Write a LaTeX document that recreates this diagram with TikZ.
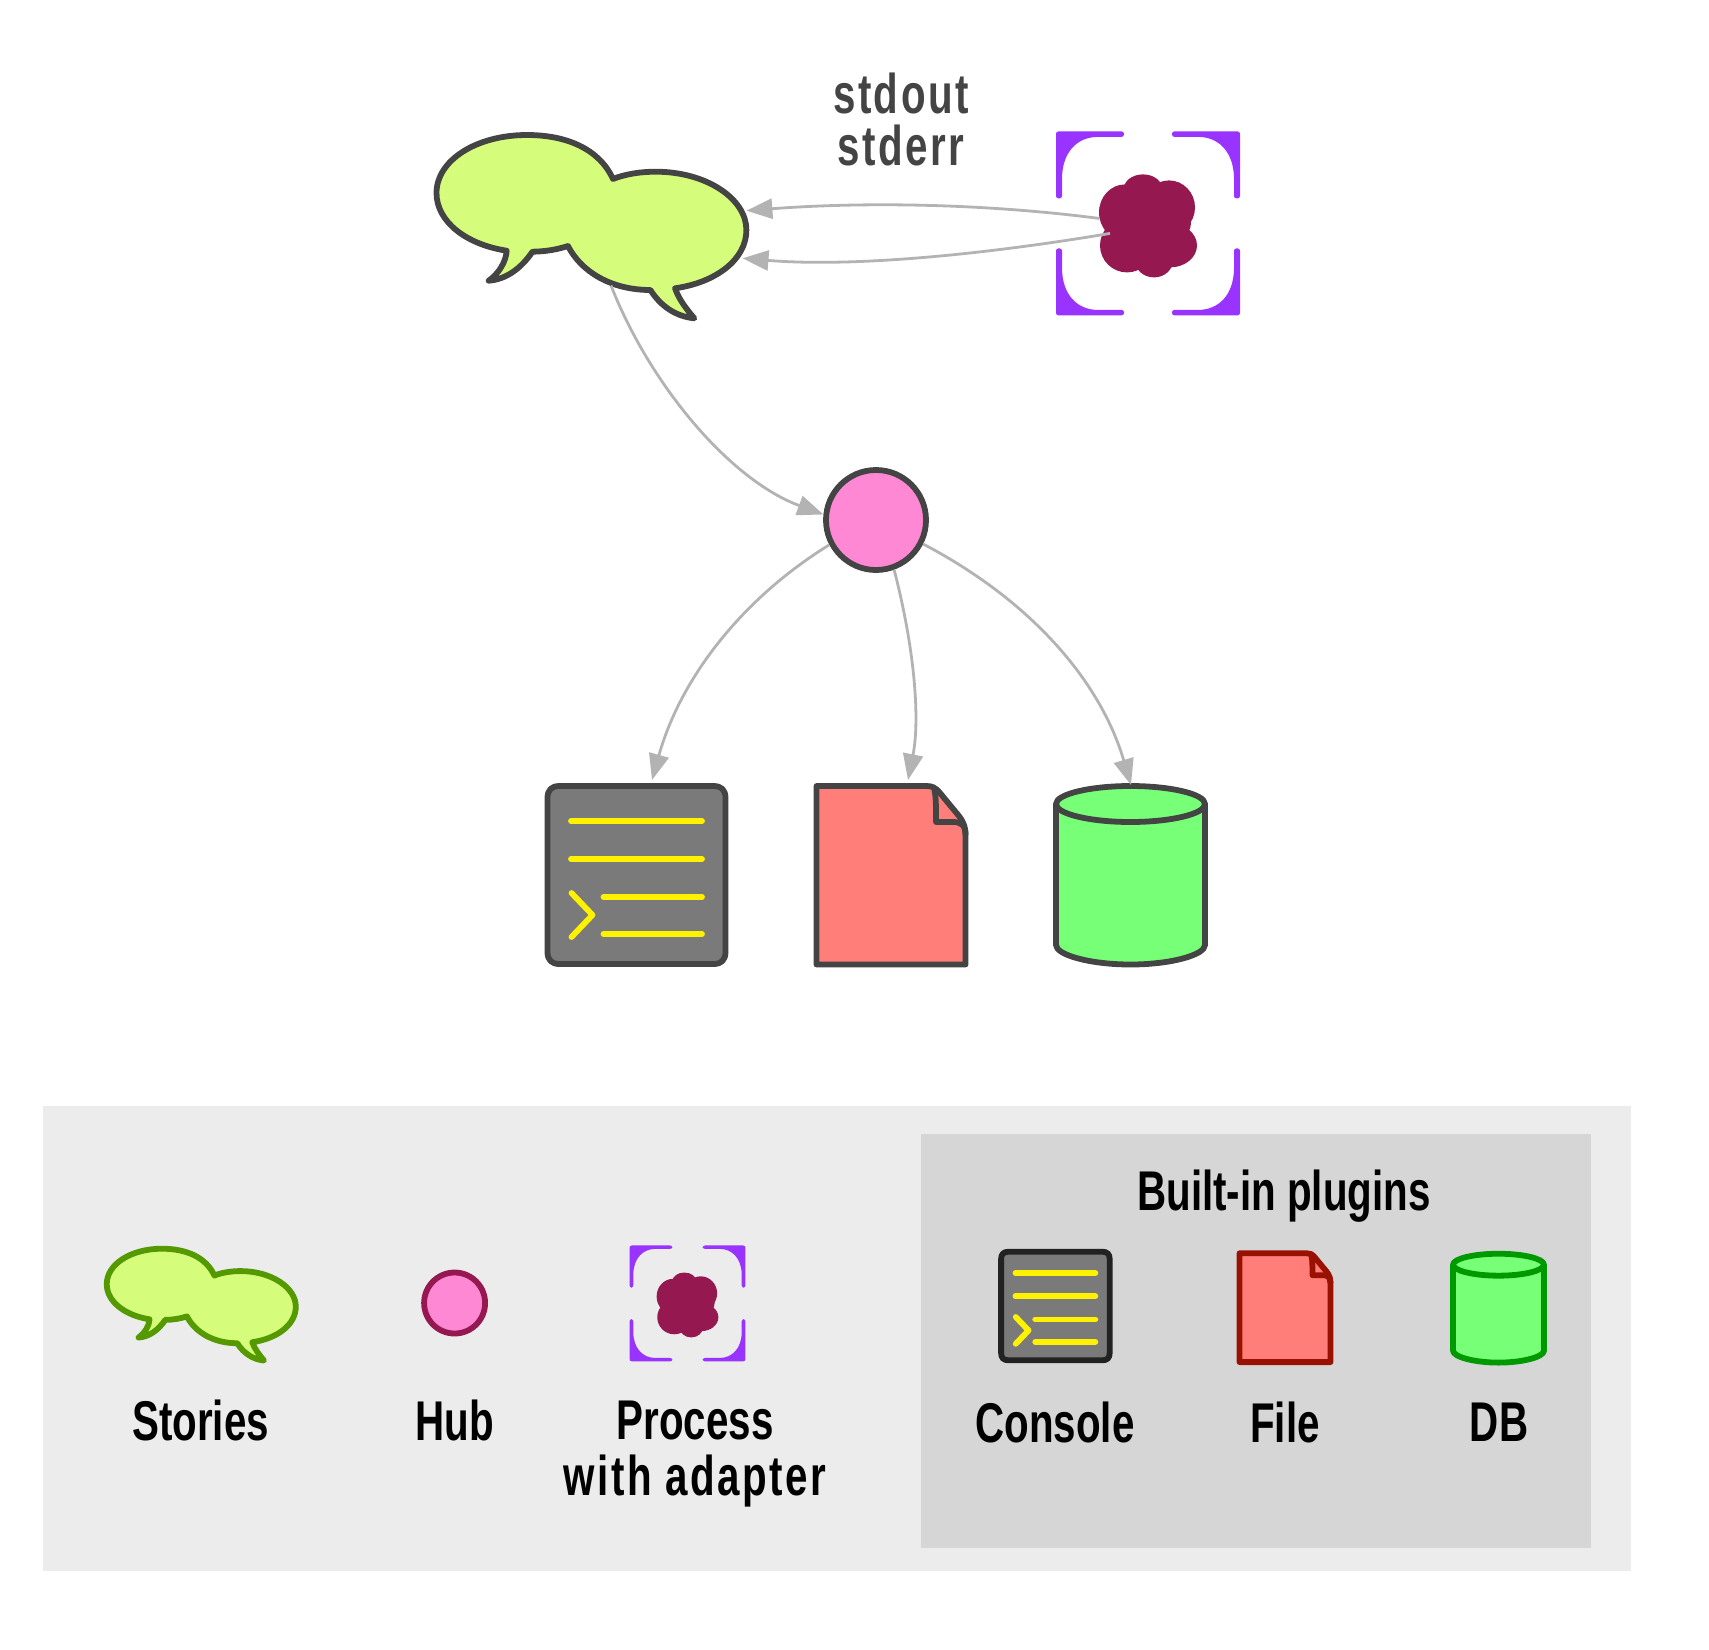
\documentclass[tikz,border=0pt]{standalone}
\usepackage{fontspec}
\setmainfont[FakeStretch=0.72]{Liberation Sans}
\usetikzlibrary{arrows.meta}
\definecolor{ink}{HTML}{444444}
\definecolor{edgegray}{HTML}{B3B3B3}
\definecolor{storyfill}{HTML}{D5FD7B}
\definecolor{storyline}{HTML}{559900}
\definecolor{hubfill}{HTML}{FF88D5}
\definecolor{burgundy}{HTML}{951950}
\definecolor{purple}{HTML}{9933FF}
\definecolor{consolefill}{HTML}{7A7A7A}
\definecolor{consoleline}{HTML}{222222}
\definecolor{filefill}{HTML}{FF7E79}
\definecolor{fileline}{HTML}{991100}
\definecolor{dbfill}{HTML}{77FF77}
\definecolor{dbline}{HTML}{009900}
\definecolor{panelouter}{HTML}{ECECEC}
\definecolor{panelinner}{HTML}{D6D6D6}
\newcommand{\wide}[1]{{\addfontfeature{LetterSpace=4.5}#1}}
\tikzset{
  iconline/.style={line width=2.9pt, line join=round},
  hub/.style={circle, draw=#1, fill=hubfill, line width=2.9pt, inner sep=0pt},
  arrow/.style={-{Triangle[length=13pt,width=10pt]}, draw=edgegray, color=edgegray, line width=1.4pt},
  label/.style={font=\bfseries\fontsize{28}{26}\selectfont, align=center, text=black, inner sep=0pt},
  panel/.style={inner sep=0pt, draw=none},
  prompt/.style={draw=yellow, line width=2.9pt, line cap=round, line join=round},
  pics/storiesicon/.style={code={
    \draw[iconline, draw=#1, fill=storyfill] (22,-47.5) .. controls (8,-78) and (-25,-91.5) .. (-64,-91.5)
      .. controls (-115,-91.5) and (-154.5,-66) .. (-154.5,-33.5)
      .. controls (-154.5,-5) and (-125,18) .. (-84.3,24.2)
      .. controls (-85,35) and (-92,47) .. (-102.4,54.2)
      .. controls (-85,53) and (-70,42) .. (-58.5,25.2)
      .. controls (-45,25) and (-34,23) .. (-23,19.5)
      .. controls (-10,45) and (20,63.5) .. (59.4,63.5)
      .. controls (70,80) and (85,90) .. (103.3,91.8)
      .. controls (95,82) and (88,73) .. (84,61.8)
      .. controls (125,56) and (155.4,33) .. (155.4,3.5)
      .. controls (155.4,-28) and (115,-54.8) .. (65,-54.8)
      .. controls (48,-54.8) and (33,-52) .. (22,-47.5) -- cycle;
    \coordinate (-inup) at (155.4,-15.8);
    \coordinate (-indown) at (151.5,31.8);
    \coordinate (-out) at (20,59);
  }},
  pics/processicon/.style={code={
    \foreach \sx/\sy in {1/1,-1/1,1/-1,-1/-1}
      \fill[purple, rounded corners=1.2pt, xscale=\sx, yscale=\sy] (-92,-92) -- (-24,-92) -- (-24,-86.5) -- (-48,-86.5)
        .. controls (-70,-86.5) and (-86,-72) .. (-86,-42) -- (-86,-25) -- (-92,-25) -- cycle;
    \fill[burgundy] (0,0) ellipse [x radius=43, y radius=25];
    \fill[burgundy] (-5,-35) ellipse [x radius=19, y radius=14];
    \fill[burgundy] (-23,-11) ellipse [x radius=26, y radius=28];
    \fill[burgundy] (21,-16) ellipse [x radius=26, y radius=27];
    \fill[burgundy] (22,22) ellipse [x radius=27, y radius=22];
    \fill[burgundy] (-21,22) ellipse [x radius=27, y radius=27];
    \fill[burgundy] (6,37) ellipse [x radius=19, y radius=17];
    \coordinate (-outup) at (-49,-5);
    \coordinate (-outdown) at (-38,10);
  }},
  pics/consoleicon/.style={code={
    \draw[iconline, draw=#1, fill=consolefill] (-77,-89) -- (77,-89) .. controls (85,-89) and (89,-85) .. (89,-77)
      -- (89,77) .. controls (89,85) and (85,89) .. (77,89) -- (-77,89) .. controls (-85,89) and (-89,85) .. (-89,77)
      -- (-89,-77) .. controls (-89,-85) and (-85,-89) .. (-77,-89) -- cycle;
    \draw[prompt] (-65.5,-54) -- (65.5,-54);
    \draw[prompt] (-65.5,-16) -- (65.5,-16);
    \draw[prompt] (-33,22) -- (65.5,22);
    \draw[prompt] (-33,59) -- (65.5,59);
    \draw[prompt] (-65,18) -- (-44,40) -- (-65,62);
    \coordinate (-in) at (15.5,-95);
  }},
  pics/fileicon/.style={code={
    \draw[iconline, draw=#1, fill=filefill] (-74.5,-89) -- (35,-89) .. controls (41,-89) and (44,-88) .. (49,-82)
      -- (68,-59) .. controls (73,-52) and (74.5,-48) .. (74.5,-40) -- (74.5,89.5) -- (-74.5,89.5) -- cycle;
    \draw[iconline, draw=#1] (43,-87) .. controls (45,-80) and (45,-70) .. (45,-53) -- (62,-53)
      .. controls (70,-53) and (74.5,-50) .. (74.5,-40);
    \coordinate (-in) at (17,-95);
  }},
  pics/dbicon/.style={code={
    \draw[iconline, draw=#1, fill=dbfill] (-74.5,-71) -- (-74.5,70) .. controls (-74.5,80) and (-40,89.5) .. (0,89.5)
      .. controls (40,89.5) and (74.5,80) .. (74.5,70) -- (74.5,-71) .. controls (74.5,-81) and (40,-89) .. (0,-89)
      .. controls (-40,-89) and (-74.5,-81) .. (-74.5,-71) -- cycle;
    \draw[iconline, draw=#1] (-74.5,-71) .. controls (-74.5,-61) and (-40,-53) .. (0,-53)
      .. controls (40,-53) and (74.5,-61) .. (74.5,-71);
    \coordinate (-in) at (0.5,-90);
  }}
}
\begin{document}
\begin{tikzpicture}[x=0.5pt, y=-0.5pt]
\useasboundingbox (0,0) rectangle (1709,1650);
\node[panel, fill=panelouter, minimum width=794pt, minimum height=232.5pt] (legend) at (836.5,1338.5) {};
\node[panel, fill=panelinner, minimum width=335pt, minimum height=207.25pt] (plugins) at (1256,1340.75) {};
\pic (stories) at (591,226.5) {storiesicon=ink};
\pic (process) at (1148,223.4) {processicon};
\pic (console) at (636.5,875) {consoleicon=ink};
\pic (file) at (891,875) {fileicon=ink};
\pic (db) at (1130.5,875) {dbicon=ink};
\node[hub=ink, minimum size=50pt] (center) at (876,520) {};
\draw[arrow] (process-outup) .. controls (980,203) and (860,202) .. (stories-inup);
\draw[arrow] (process-outdown) .. controls (1000,252) and (860,268) .. (stories-indown);
\draw[arrow] (stories-out) .. controls (650,385) and (730,480) .. (center.174);
\draw[arrow] (center.208) .. controls (740,600) and (680,680) .. (console-in);
\draw[arrow] (center.290) .. controls (915,650) and (920,720) .. (file-in);
\draw[arrow] (center.333) .. controls (1030,600) and (1100,680) .. (db-in);
\node[label, text=ink] (streams) at (901,119) {\wide{stdout}\\\wide{stderr}};
\pic[scale=0.61] (storieskey) at (201,1304.5) {storiesicon=storyline};
\node[hub=burgundy, minimum size=30.5pt] (hubkey) at (454.6,1303) {};
\pic[scale=0.63] (processkey) at (687.5,1303.4) {processicon};
\pic[scale=0.61] (consolekey) at (1055.4,1306) {consoleicon=consoleline};
\pic[scale=0.61] (filekey) at (1285,1307.5) {fileicon=fileline};
\pic[scale=0.61] (dbkey) at (1498.5,1308) {dbicon=dbline};
\node[label] (storieslabel) at (200.5,1420) {Stories};
\node[label] (hublabel) at (454.5,1420) {Hub};
\node[label] (processlabel) at (695,1454) {Process\\[2pt]\wide{with adapter}};
\node[label] (pluginstitle) at (1284,1196) {Built-in plugins};
\node[label] (consolelabel) at (1055,1422) {Console};
\node[label] (filelabel) at (1285,1422) {File};
\node[label] (dblabel) at (1499,1422) {DB};
\end{tikzpicture}
\end{document}
